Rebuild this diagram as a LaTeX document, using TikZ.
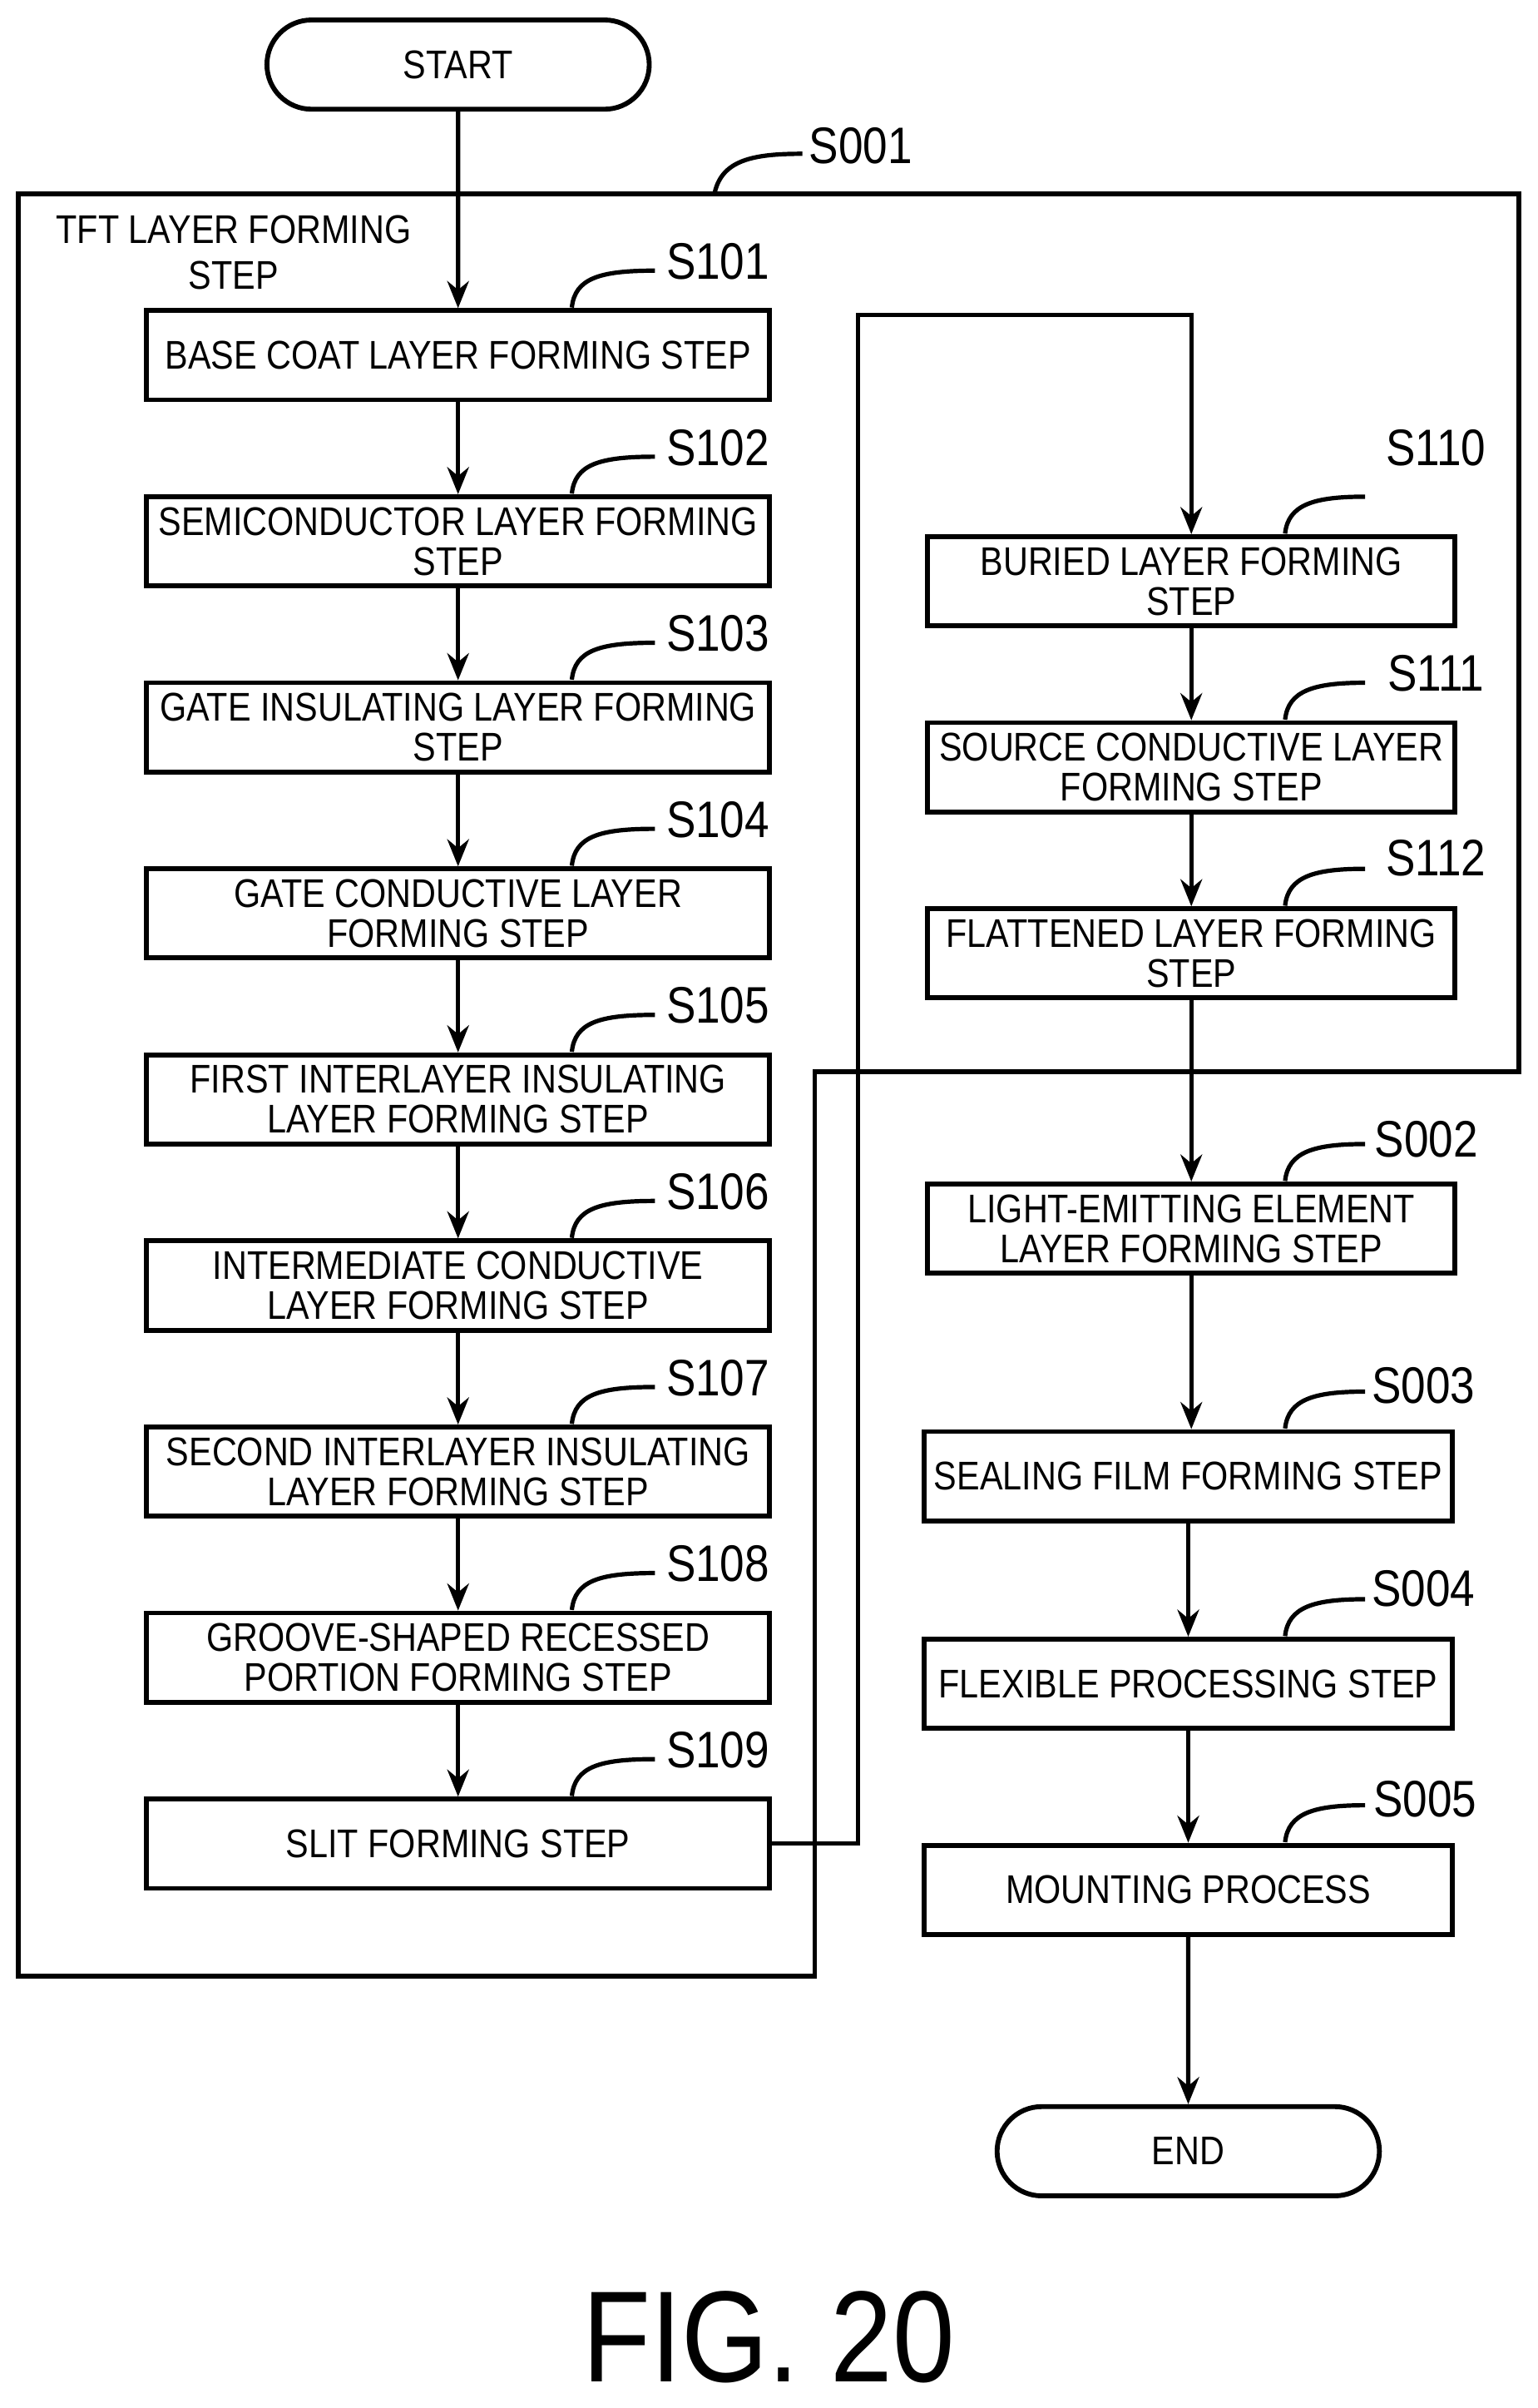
\documentclass[tikz,border=0pt]{standalone}
\usepackage{fontspec}
\setmainfont{Liberation Sans}[FakeStretch=0.86]
\usetikzlibrary{arrows.meta,shapes.misc}
\begin{document}
\begin{tikzpicture}[x=0.01cm,y=-0.01cm,
  box/.style={draw,line width=0.9pt,minimum width=4.05cm,minimum height=0.58cm,align=center,inner sep=1pt,font=\fontsize{7.4}{7.4}\selectfont},
  rbox/.style={box,minimum width=3.43cm},
  term/.style={draw,line width=0.9pt,rounded rectangle,minimum width=2.72cm,minimum height=0.58cm,font=\fontsize{7.4}{8}\selectfont},
  lab/.style={font=\fontsize{9.5}{10}\selectfont},
  arr/.style={-{Stealth[length=5pt,width=4pt]},line width=0.8pt},
  lead/.style={line width=0.8pt}]
\useasboundingbox (0,0) rectangle (1000,1566);
\node[term] (start) at (298,42) {START};
\node[term] (end) at (773,1399) {END};
\draw[line width=0.9pt] (12,126) -- (988,126) -- (988,697) -- (530,697) -- (530,1285) -- (12,1285) -- cycle;
\node[lab] (s001) at (560,95) {S001};
\draw[lead] (465,125) .. controls (470,104) and (490,100) .. (522,100);
\node[align=center,font=\fontsize{7.4}{8.5}\selectfont] (tft) at (152,164) {TFT LAYER FORMING\\STEP};
\foreach \n/\y/\t in {101/231/{BASE COAT LAYER FORMING STEP},102/352/{SEMICONDUCTOR LAYER FORMING\\STEP},103/473/{GATE INSULATING LAYER FORMING\\STEP},104/594/{GATE CONDUCTIVE LAYER\\FORMING STEP},105/715/{FIRST INTERLAYER INSULATING\\LAYER FORMING STEP},106/836/{INTERMEDIATE CONDUCTIVE\\LAYER FORMING STEP},107/957/{SECOND INTERLAYER INSULATING\\LAYER FORMING STEP},108/1078/{GROOVE-SHAPED RECESSED\\PORTION FORMING STEP},109/1199/{SLIT FORMING STEP}}{
  \node[box] (b\n) at (298,\y) {\t};
  \node[lab] (l\n) at (467,\y-61) {S\n};
  \draw[lead] (372,\y-31) .. controls (374,\y-50) and (390,\y-55) .. (426,\y-55);
}
\foreach \n/\x/\y/\t in {110/775/378/{BURIED LAYER FORMING\\STEP},111/775/499/{SOURCE CONDUCTIVE LAYER\\FORMING STEP},112/775/620/{FLATTENED LAYER FORMING\\STEP},002/775/799/{LIGHT-EMITTING ELEMENT\\LAYER FORMING STEP},003/773/960/{SEALING FILM FORMING STEP},004/773/1095/{FLEXIBLE PROCESSING STEP},005/773/1229/{MOUNTING PROCESS}}{
  \node[rbox] (b\n) at (\x,\y) {\t};
}
\foreach \n/\y in {110/378,111/499,112/620,002/799,003/960,004/1095,005/1229}{
  \draw[lead] (836,\y-31) .. controls (838,\y-50) and (855,\y-55) .. (888,\y-55);
}
\node[lab] at (934,291) {S110};
\node[lab] at (934,438) {S111};
\node[lab] at (934,558) {S112};
\node[lab] at (928,741) {S002};
\node[lab] at (926,901) {S003};
\node[lab] at (926,1033) {S004};
\node[lab] at (927,1170) {S005};
\draw[arr] (start) -- (b101);
\draw[arr] (b101) -- (b102);
\draw[arr] (b102) -- (b103);
\draw[arr] (b103) -- (b104);
\draw[arr] (b104) -- (b105);
\draw[arr] (b105) -- (b106);
\draw[arr] (b106) -- (b107);
\draw[arr] (b107) -- (b108);
\draw[arr] (b108) -- (b109);
\draw[arr] (b109.east) -- (558,1199) -- (558,205) -- (775,205) -- (b110.north);
\draw[arr] (b110) -- (b111);
\draw[arr] (b111) -- (b112);
\draw[arr] (b112) -- (b002);
\draw[arr] (b002.south) -- (b002.south |- b003.north);
\draw[arr] (b003) -- (b004);
\draw[arr] (b004) -- (b005);
\draw[arr] (b005) -- (end);
\node[font=\fontsize{24}{24}\selectfont] (fig) at (500,1520) {FIG. 20};
\end{tikzpicture}
\end{document}
